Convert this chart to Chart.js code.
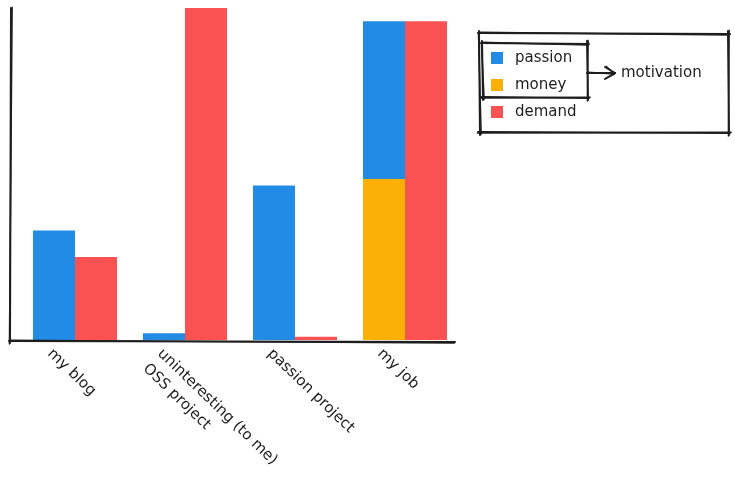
<!DOCTYPE html>
<html>
<head>
<meta charset="utf-8">
<script src="https://cdn.jsdelivr.net/npm/chart.js@4"></script>
<style>
  html, body { margin: 0; padding: 0; background: #fff; }
  canvas { display: block; }
</style>
</head>
<body>
<canvas id="chart" width="735" height="502"></canvas>
<script>
// categories, with the wrapped label split into lines
const categories = ["my blog", "uninteresting OSS project", "passion project", "my job"];
const categoryLines = [["my blog"], ["uninteresting (to me)", "OSS project"], ["passion project"], ["my job"]];

// series values (arbitrary units)
const passion = [3.3, 0.2, 4.65, 4.75];
const money = [0, 0, 0, 4.85];
const demand = [2.5, 10, 0.1, 9.6];

const BLUE = "#228be6";
const YELLOW = "#fab005";
const RED = "#fa5252";
const INK = "#1e1e1e";
const FONT = '15px "DejaVu Sans", sans-serif';

// draw a rough double stroke, like a hand drawn line
function roughLine(ctx, x1, y1, x2, y2) {
  ctx.save();
  ctx.strokeStyle = INK;
  ctx.lineCap = "round";
  ctx.lineWidth = 2;
  ctx.beginPath();
  ctx.moveTo(x1, y1);
  ctx.lineTo(x2, y2);
  ctx.stroke();
  ctx.lineWidth = 1.4;
  ctx.beginPath();
  ctx.moveTo(x1 + 1.2, y1 - 0.8);
  ctx.lineTo(x2 - 0.6, y2 + 1.1);
  ctx.stroke();
  ctx.restore();
}

function roughRect(ctx, x, y, w, h) {
  roughLine(ctx, x - 2, y, x + w + 2, y + 1);
  roughLine(ctx, x + w, y - 2, x + w + 1, y + h + 2);
  roughLine(ctx, x + w + 2, y + h, x - 2, y + h - 1);
  roughLine(ctx, x, y + h + 2, x - 1, y - 2);
}

const sketchPlugin = {
  id: "sketch",
  afterDraw(chart) {
    const ctx = chart.ctx;
    const xs = chart.scales.x;
    const area = chart.chartArea;

    // axes
    roughLine(ctx, 11, 8, 10, area.bottom + 3);
    roughLine(ctx, 9, area.bottom + 1, 455, area.bottom + 2);

    // category labels, turned clockwise
    ctx.save();
    ctx.fillStyle = INK;
    ctx.font = FONT;
    ctx.textAlign = "left";
    ctx.textBaseline = "top";
    categoryLines.forEach((lines, i) => {
      const x = xs.getPixelForValue(i) - 20;
      ctx.save();
      ctx.translate(x, area.bottom + 6);
      ctx.rotate(44 * Math.PI / 180);
      lines.forEach((t, k) => ctx.fillText(t, 0, k * 21));
      ctx.restore();
    });
    ctx.restore();

    // legend
    roughRect(ctx, 480, 33, 248, 100);
    roughRect(ctx, 483, 43, 104, 55);
    roughLine(ctx, 587, 73, 615, 73);
    roughLine(ctx, 605, 67, 615, 73);
    roughLine(ctx, 605, 79, 615, 73);

    const items = [["passion", BLUE, 58], ["money", YELLOW, 85], ["demand", RED, 112]];
    ctx.save();
    ctx.font = FONT;
    ctx.textBaseline = "middle";
    items.forEach(([label, color, y]) => {
      ctx.fillStyle = color;
      ctx.fillRect(491, y - 6, 12, 12);
      ctx.fillStyle = INK;
      ctx.fillText(label, 515, y);
    });
    ctx.fillText("motivation", 621, 73);
    ctx.restore();
  }
};

const ctx = document.getElementById("chart").getContext("2d");
new Chart(ctx, {
  type: "bar",
  data: {
    labels: categories,
    datasets: [
      { label: "money", data: money, backgroundColor: YELLOW, stack: "motivation" },
      { label: "passion", data: passion, backgroundColor: BLUE, stack: "motivation" },
      { label: "demand", data: demand, backgroundColor: RED, stack: "demand" },
    ],
  },
  options: {
    responsive: false,
    animation: false,
    categoryPercentage: 0.764,
    barPercentage: 1.0,
    layout: {
      padding: { left: 20, right: 275, top: 8, bottom: 162 },
    },
    scales: {
      x: { stacked: true, display: false },
      y: { stacked: true, display: false, min: 0, max: 10 },
    },
    plugins: {
      legend: { display: false },
      tooltip: { enabled: false },
    },
  },
  plugins: [sketchPlugin],
});
</script>
</body>
</html>
